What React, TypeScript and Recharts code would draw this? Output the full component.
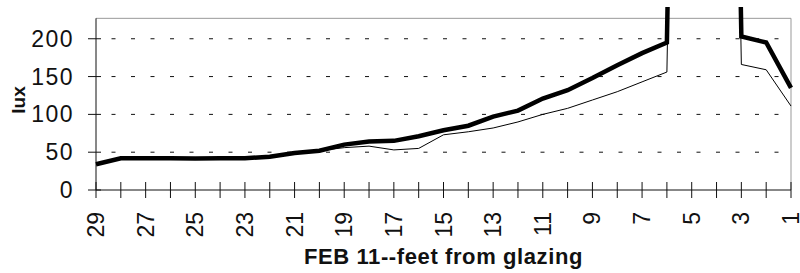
import { CartesianGrid, Label, Line, LineChart, ReferenceLine, XAxis, YAxis } from "recharts";

// feet from glazing, read right-to-left like the original
const feet = [29, 28, 27, 26, 25, 24, 23, 22, 21, 20, 19, 18, 17, 16, 15, 14, 13, 12, 11, 10, 9, 8, 7, 6, 5, 4, 3, 2, 1];
// bold series (5 and 4 ft run far off the top of the chart)
const luxBold = [34, 42, 42, 42, 41.5, 42, 42, 44, 49, 52, 60, 64, 65, 71, 79, 85, 97, 105, 121, 132, 148, 165, 181, 195, 2000, 2000, 203, 195, 135];
// thin series
const luxThin = [34, 42, 42, 42, 41.5, 42, 42, 44, 49, 52, 56, 58, 53, 55, 73, 77, 82, 90, 100, 108, 119, 130, 143, 156, 2000, 2000, 166, 159, 111];
const yTicks = [0, 50, 100, 150, 200];
const gridValues = [50, 100, 150, 200];
const plotTop = 227; // where the frame box closes
const yMax = 242; // lines keep going a little above the frame

const FONT = "'Liberation Sans', Arial, sans-serif";
const INK = "#111";

const data = feet.map((ft, i) => ({ ft, bold: luxBold[i], thin: luxThin[i] }));

function XTick({ x, y, payload, index }: any) {
  const ty = y + 22;
  return (
    <g>
      <line x1={x} x2={x} y1={y - 8} y2={y + 8} stroke={INK} />
      {index % 2 === 0 && (
        <text
          x={x}
          y={ty}
          transform={`rotate(-90 ${x} ${ty})`}
          textAnchor="end"
          dominantBaseline="central"
          fontSize={23}
          fontFamily={FONT}
          fill={INK}
        >
          {payload.value}
        </text>
      )}
    </g>
  );
}

function YTick({ x, y, payload }: any) {
  return (
    <g>
      <line x1={x - 8} x2={x + 5} y1={y} y2={y} stroke={INK} />
      <text
        x={x - 22}
        y={y}
        textAnchor="end"
        dominantBaseline="central"
        fontSize={23}
        letterSpacing={1.5}
        fontFamily={FONT}
        fill={INK}
      >
        {payload.value}
      </text>
    </g>
  );
}

function LuxLabel({ viewBox }: any) {
  const cx = viewBox.x + 18;
  const cy = viewBox.y + viewBox.height / 2 + 1.5;
  return (
    <text
      x={cx}
      y={cy}
      transform={`rotate(-90 ${cx} ${cy})`}
      textAnchor="middle"
      dominantBaseline="central"
      fontSize={19}
      fontWeight="bold"
      fontFamily={FONT}
      fill={INK}
    >
      lux
    </text>
  );
}

export default function App() {
  return (
    <div style={{ position: "fixed", left: 0, top: 0, background: "#fff" }}>
      <LineChart width={800} height={273} data={data} margin={{ top: 7, right: 9, left: 0, bottom: 0 }} style={{ fontFamily: FONT }}>
        <CartesianGrid
          vertical={false}
          horizontalValues={gridValues}
          stroke={INK}
          strokeDasharray="4 15.5"
          strokeDashoffset={4}
        />
        <XAxis
          dataKey="ft"
          type="category"
          interval={0}
          height={83}
          tickSize={0}
          tickMargin={0}
          tickLine={false}
          axisLine={{ stroke: INK }}
          tick={<XTick />}
        >
          <Label
            value="FEB 11--feet from glazing"
            position="insideBottom"
            offset={9}
            style={{ fontSize: 22, fontWeight: "bold", fill: INK, letterSpacing: 0.6, fontFamily: FONT }}
          />
        </XAxis>
        <YAxis
          width={96}
          domain={[0, yMax]}
          allowDataOverflow
          ticks={yTicks}
          interval={0}
          tickSize={0}
          tickMargin={0}
          tickLine={false}
          axisLine={false}
          tick={<YTick />}
        >
          <Label content={<LuxLabel />} />
        </YAxis>
        <ReferenceLine y={plotTop} stroke="#999" />
        <ReferenceLine segment={[{ x: 1, y: 0 }, { x: 1, y: plotTop }]} stroke="#999" />
        <ReferenceLine segment={[{ x: 29, y: 0 }, { x: 29, y: plotTop }]} stroke={INK} />
        <Line type="linear" dataKey="thin" stroke="#000" strokeWidth={1} dot={false} isAnimationActive={false} />
        <Line type="linear" dataKey="bold" stroke="#000" strokeWidth={4.5} dot={false} isAnimationActive={false} />
      </LineChart>
    </div>
  );
}
